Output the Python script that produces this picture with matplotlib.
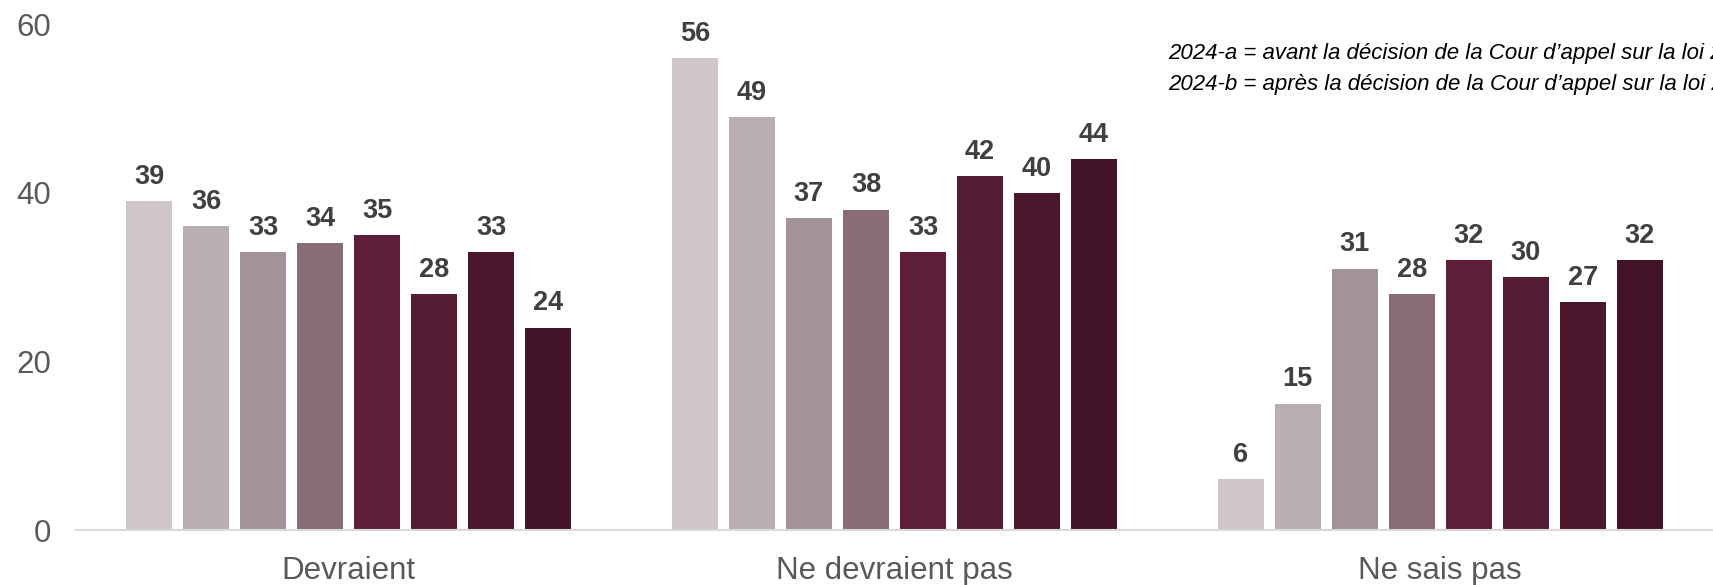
import matplotlib
matplotlib.use("Agg")
import matplotlib.pyplot as plt
import numpy as np

plt.rcParams['font.family'] = ['Liberation Sans', 'DejaVu Sans']

categories = ["Devraient", "Ne devraient pas", "Ne sais pas"]
series_names = ["S1", "S2", "S3", "S4", "S5", "S6", "2024-a", "2024-b"]
values = [
    [39, 56, 6],
    [36, 49, 15],
    [33, 37, 31],
    [34, 38, 28],
    [35, 33, 32],
    [28, 42, 30],
    [33, 40, 27],
    [24, 44, 32],
]
colors = ["#D0C5C9", "#B9AEB2", "#A39297", "#8A6C75", "#5E1E39", "#561C34", "#4B172D", "#431427"]
yticks = [0, 20, 40, 60]
note_lines = [
    "2024-a = avant la décision de la Cour d\u2019appel sur la loi 21",
    "2024-b = après la décision de la Cour d\u2019appel sur la loi 21",
]

fig = plt.figure(figsize=(17.13, 5.85), dpi=100)
ax = fig.add_axes([76/1713, 1-530/585, 1-76/1713, (530-24)/585])

n = len(series_names)
slot = 0.1045
bw = 0.084
x = np.arange(len(categories))
for i, (name, vals, c) in enumerate(zip(series_names, values, colors)):
    pos = x + (i - (n - 1) / 2) * slot
    bars = ax.bar(pos, vals, width=bw, color=c, label=name)
    for b, v in zip(bars, vals):
        ax.annotate(str(v), (b.get_x() + b.get_width() / 2, v),
                    xytext=(0, 8), textcoords="offset points",
                    ha="center", va="bottom", fontsize=19.5, fontweight="bold",
                    color="#404040")

ax.set_xlim(-0.5, 2.5)
ax.set_ylim(0, 60)
ax.set_yticks(yticks)
ax.set_xticks(x)
ax.set_xticklabels(categories)
ax.tick_params(axis="y", length=0, pad=18, labelsize=22.5, labelcolor="#595959")
ax.tick_params(axis="x", length=0, pad=19, labelsize=22.5, labelcolor="#595959")
for s in ["top", "right", "left"]:
    ax.spines[s].set_visible(False)
ax.spines["bottom"].set_color("#D9D9D9")
ax.spines["bottom"].set_linewidth(1.5)

fig.text(1168/1713, 1-59/585, note_lines[0], fontsize=16, style="italic",
         color="#000000", ha="left", va="baseline")
fig.text(1168/1713, 1-90/585, note_lines[1], fontsize=16, style="italic",
         color="#000000", ha="left", va="baseline")

fig.savefig("out.png", dpi=100)
